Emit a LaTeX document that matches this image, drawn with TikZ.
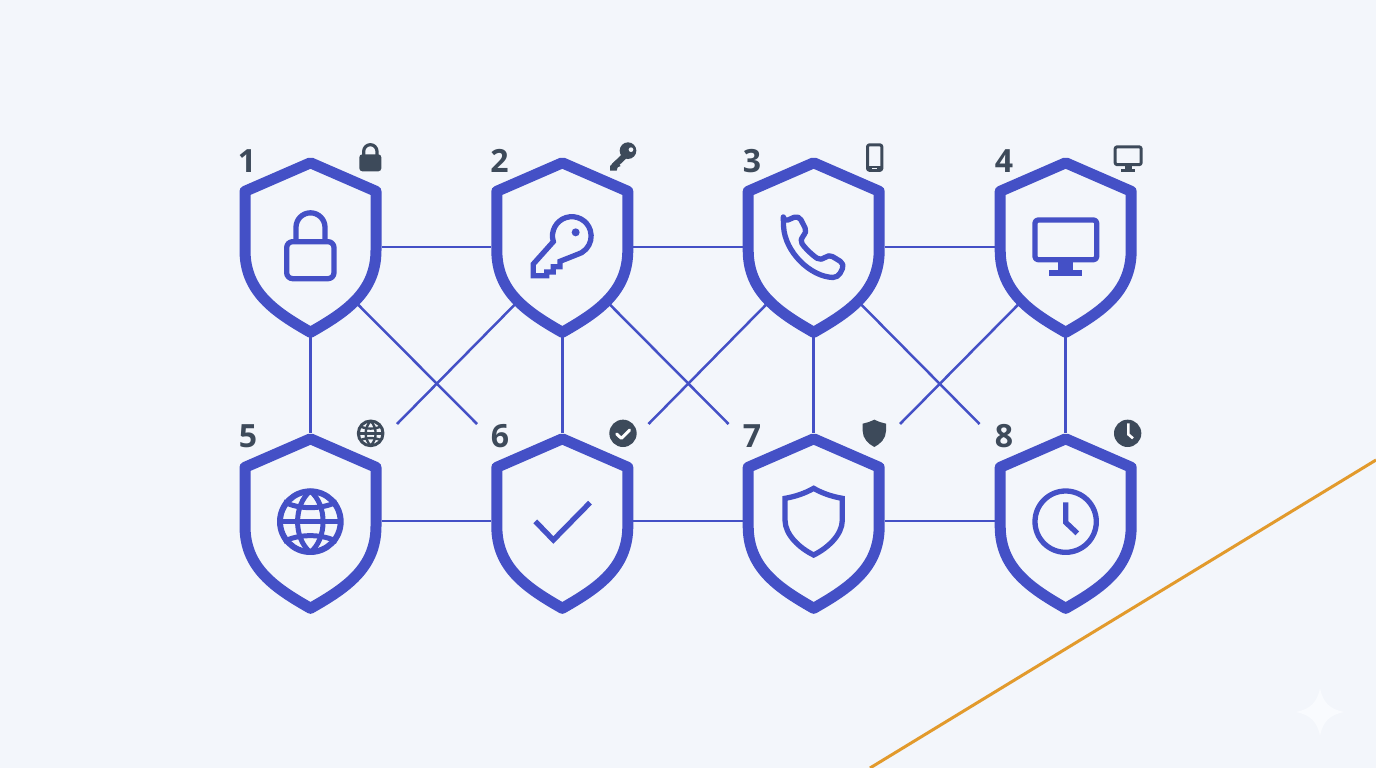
\documentclass[tikz,border=0pt]{standalone}
\usepackage{fontspec}
\setmainfont{Open Sans}
\usetikzlibrary{calc}
\definecolor{bgc}{HTML}{F3F6FB}
\definecolor{ind}{HTML}{4450C6}
\definecolor{slate}{HTML}{3D4A5A}
\definecolor{amber}{HTML}{E29A2C}
\definecolor{spark}{HTML}{F9FBFE}
\newcommand{\shieldat}[1]{%
  \draw[shieldline,shift={($(#1.north)+(0,180.3)$)}] (0,-174.5) -- (65.5,-146) -- (65.5,-87)
    .. controls (65.5,-45) and (35,-25) .. (0,-5)
    .. controls (-35,-25) and (-65.5,-45) .. (-65.5,-87)
    -- (-65.5,-146) -- cycle;}
\tikzset{
  x=1pt,y=-1pt,
  shieldline/.style={draw=ind,fill=bgc,line width=11pt,line join=round},
  shieldbox/.style={minimum width=142pt,minimum height=180pt,inner sep=0pt,outer sep=0pt},
  shieldboxlow/.style={minimum width=142pt,minimum height=176pt,inner sep=0pt,outer sep=0pt},
  link/.style={draw=ind,line width=2.5pt},
  numlabel/.style={font=\fontsize{32}{32}\selectfont\bfseries,text=slate,inner sep=0pt},
  big/.style={draw=ind,line width=5.3pt,line join=round},
  bigfill/.style={fill=ind},
  small/.style={draw=slate,line join=round},
  smallfill/.style={fill=slate},
  zm/.style={x=0.33333pt,y=-0.33333pt},
}
\begin{document}
\begin{tikzpicture}
\useasboundingbox (0,0) rectangle (1376,768);
\fill[bgc] (0,0) rectangle (1376,768);
% sparkle
\fill[spark] (1320,688) .. controls (1323,703) and (1330,709) .. (1344,712)
  .. controls (1330,715) and (1323,721) .. (1320,736)
  .. controls (1317,721) and (1310,715) .. (1296,712)
  .. controls (1310,709) and (1317,703) .. (1320,688) -- cycle;
% amber line
\coordinate (amberA) at (870,768);
\coordinate (amberB) at (1376,460);
\draw[draw=amber,line width=3pt] (amberA) -- (amberB);
% nodes
\node[shieldbox] (s1) at (310.5,247) {};
\node[shieldbox] (s2) at (562.3,247) {};
\node[shieldbox] (s3) at (813.7,247) {};
\node[shieldbox] (s4) at (1065.7,247) {};
\node[shieldboxlow] (s5) at (310.5,521) {};
\node[shieldboxlow] (s6) at (562.3,521) {};
\node[shieldboxlow] (s7) at (813.7,521) {};
\node[shieldboxlow] (s8) at (1065.7,521) {};
% free ends of the diagonals
\coordinate (e1) at (477,424);
\coordinate (e2) at (397,424);
\coordinate (e3) at (728.5,424);
\coordinate (e4) at (648.5,424);
\coordinate (e5) at (979.5,424);
\coordinate (e6) at (900,424);
\coordinate (b1) at ($(s1.south)+(46,-34)$);
\coordinate (b2) at ($(s2.south)+(-46,-34)$);
\coordinate (b3) at ($(s2.south)+(46,-34)$);
\coordinate (b4) at ($(s3.south)+(-46,-34)$);
\coordinate (b5) at ($(s3.south)+(46,-34)$);
\coordinate (b6) at ($(s4.south)+(-46,-34)$);
% connectors
\draw[link] (s1) -- (s2);
\draw[link] (s2) -- (s3);
\draw[link] (s3) -- (s4);
\draw[link] (s5) -- (s6);
\draw[link] (s6) -- (s7);
\draw[link] (s7) -- (s8);
\draw[link] (s1) -- (s5);
\draw[link] (s2) -- (s6);
\draw[link] (s3) -- (s7);
\draw[link] (s4) -- (s8);
\draw[link] (b1) -- (e1);
\draw[link] (b2) -- (e2);
\draw[link] (b3) -- (e3);
\draw[link] (b4) -- (e4);
\draw[link] (b5) -- (e5);
\draw[link] (b6) -- (e6);
% shields
\shieldat{s1}\shieldat{s2}\shieldat{s3}\shieldat{s4}
\shieldat{s5}\shieldat{s6}\shieldat{s7}\shieldat{s8}
% number labels
\node[numlabel] (n1) at (247,161) {1};
\node[numlabel] (n2) at (499.5,161) {2};
\node[numlabel] (n3) at (752,161) {3};
\node[numlabel] (n4) at (1004,161) {4};
\node[numlabel] (n5) at (248,436) {5};
\node[numlabel] (n6) at (500,436) {6};
\node[numlabel] (n7) at (752,436) {7};
\node[numlabel] (n8) at (1004,436) {8};
% ---- icons: coordinates in crop units
\begin{scope}[shift={(220,130)},zm]
  % big lock
  \draw[big,rounded corners=6pt] (200,335) rectangle (342,446);
  \draw[big] (228,335) -- (228,292) arc[start angle=180,end angle=360,radius=43.5] -- (315,335);
  % big key
  \draw[big,line join=miter] (1000,335) arc[start angle=163,end angle=436,radius=58]
    -- (1020,394) -- (1020,410) -- (1000,410) -- (1000,426) -- (980,426) -- (980,437) -- (940,437) -- (940,402) -- cycle;
  \fill[ind] (1067,307) circle[radius=12];
  % small lock
  \fill[smallfill,rounded corners=3pt] (418,73) rectangle (484,124);
  \draw[small,line width=3.2pt] (431,75) -- (431,64) arc[start angle=180,end angle=360,radius=20] -- (471,75);
  % small key
  \fill[smallfill] (1224,62) circle[radius=25];
  \draw[slate,line width=6pt] (1220,72) -- (1182,108);
  \fill[smallfill] (1170,122) -- (1170,108) -- (1185,94) -- (1202,108) -- (1193,112) -- (1190,122) -- cycle;
  \fill[bgc] (1233,59) circle[radius=7];
\end{scope}
\begin{scope}[shift={(720,130)},zm]
  % big phone
  \draw[big,rounded corners=5pt] (190,276) -- (236,256) -- (262,307) -- (238,328)
    .. controls (255,355) and (280,378) .. (305,393) -- (325,372) -- (374,402) -- (354,443)
    .. controls (270,440) and (195,365) .. (190,276) -- cycle;
  % big monitor
  \draw[big,rounded corners=3pt] (945,270) rectangle (1130,389);
  \fill[bigfill] (1015,395) rectangle (1060,422);
  \fill[bigfill] (988,420) rectangle (1085,438);
  % small phone
  \draw[small,line width=3pt,rounded corners=2pt] (442.5,44.5) rectangle (485.5,121);
  \fill[smallfill] (442,108) rectangle (486,123);
  \fill[bgc] (456,113.5) rectangle (470,118);
  % small monitor
  \draw[small,line width=3pt,rounded corners=2pt] (1185.5,50.5) rectangle (1263.5,104);
  \fill[smallfill] (1214,104) rectangle (1236,120);
  \fill[smallfill] (1204,117) rectangle (1246,125);
\end{scope}
\begin{scope}[shift={(220,405)},zm]
  % big globe
  \draw[big,line width=6pt] (271,350) circle[radius=91];
  \draw[big,line width=5pt] (271,258) .. controls (220,300) and (220,400) .. (271,442)
     .. controls (322,400) and (322,300) .. (271,258) -- cycle;
  \draw[big,line width=5pt] (179,350) -- (363,350);
  \draw[big,line width=5pt] (191,290) .. controls (235,314) and (307,314) .. (351,290);
  \draw[big,line width=5pt] (191,410) .. controls (235,386) and (307,386) .. (351,410);
  % small globe
  \draw[small,line width=3pt] (452,85) circle[radius=37];
  \draw[small,line width=2.4pt] (452,48) .. controls (432,68) and (432,102) .. (452,122)
     .. controls (472,102) and (472,68) .. (452,48) -- cycle;
  \draw[small,line width=2.4pt] (415,85) -- (489,85);
  \draw[small,line width=2.4pt] (421,64) .. controls (437,73) and (467,73) .. (483,64);
  \draw[small,line width=2.4pt] (421,106) .. controls (437,97) and (467,97) .. (483,106);
  % big check
  \draw[draw=ind,line width=5.3pt] (946,349) -- (1000,405) -- (1110,293);
  % small check badge
  \fill[smallfill] (1209,85) circle[radius=41];
  \draw[draw=white,line width=3pt,line cap=round,line join=round] (1190,87) -- (1204,100) -- (1229,75);
\end{scope}
\begin{scope}[shift={(720,405)},zm]
  % inner shield
  \draw[big,line join=miter] (281,250) .. controls (255,265) and (225,275) .. (195,280) -- (195,345)
     .. controls (195,390) and (240,430) .. (281,450)
     .. controls (322,430) and (367,390) .. (367,345) -- (367,280)
     .. controls (337,275) and (307,265) .. (281,250) -- cycle;
  % small filled shield
  \fill[smallfill] (463,44) .. controls (450,50) and (440,54) .. (428,56) -- (428,78)
     .. controls (428,100) and (445,117) .. (463,126)
     .. controls (481,117) and (498,100) .. (498,78) -- (498,56)
     .. controls (486,54) and (476,50) .. (463,44) -- cycle;
  % big clock
  \draw[big] (1037,350) circle[radius=92];
  \draw[draw=ind,line width=5.3pt,line join=miter] (1037,292) -- (1037,352) -- (1072,385);
  % small clock
  \fill[smallfill] (1223,85) circle[radius=41];
  \draw[draw=white,line width=2.6pt,line join=miter] (1225,55) -- (1225,88) -- (1239,100);
\end{scope}
\end{tikzpicture}
\end{document}
